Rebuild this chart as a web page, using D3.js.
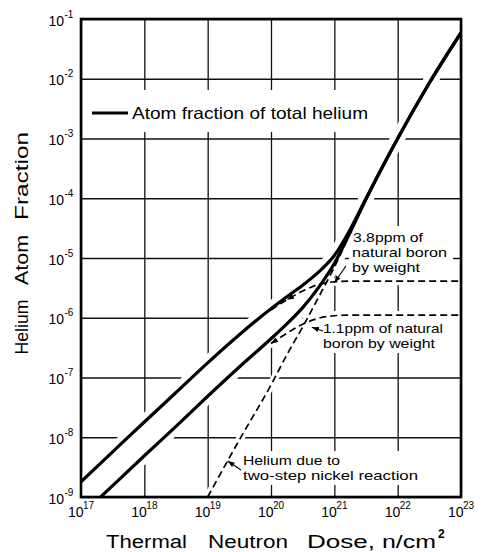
<!DOCTYPE html>
<html>
<head>
<meta charset="utf-8">
<script src="https://cdn.jsdelivr.net/npm/d3@7"></script>
<style>
body { margin: 0; background: #fff; }
text { font-family: "Liberation Sans", Arial, sans-serif; fill: #000; }
</style>
</head>
<body>
<div class="static-image"></div>
<script>
// dose points (n/cm2)
var doses = [1e17, 3.16e17, 1e18, 3.16e18, 1e19, 3.16e19, 1e20, 1.78e20, 3.16e20, 5.62e20, 1e21, 1.78e21, 3.16e21, 1e22, 3.16e22, 1e23];
// total helium, 3.8 ppm boron (upper solid)
var totalHigh = [1.8e-9, 5.7e-9, 1.8e-8, 5.6e-8, 1.76e-7, 5.2e-7, 1.42e-6, 2.24e-6, 3.5e-6, 5.8e-6, 1.1e-5, 3.0e-5, 9.9e-5, 1.0e-3, 8.5e-3, 5.9e-2];
// total helium, 1.1 ppm boron (lower solid)
var totalLow = [4.9e-10, 1.55e-9, 4.9e-9, 1.52e-8, 4.85e-8, 1.5e-7, 4.45e-7, 7.9e-7, 1.48e-6, 3.2e-6, 8.1e-6, 2.7e-5, 9.6e-5, 1.0e-3, 8.5e-3, 5.9e-2];
// helium from boron alone (dashed)
var boronHigh = [1.8e-9, 5.7e-9, 1.8e-8, 5.6e-8, 1.75e-7, 5.1e-7, 1.35e-6, 2.0e-6, 2.8e-6, 3.6e-6, 4.0e-6, 4.1e-6, 4.1e-6, 4.1e-6, 4.1e-6, 4.1e-6];
var boronLow = [4.9e-10, 1.55e-9, 4.9e-9, 1.52e-8, 4.75e-8, 1.4e-7, 3.7e-7, 5.5e-7, 7.8e-7, 9.8e-7, 1.08e-6, 1.11e-6, 1.11e-6, 1.11e-6, 1.11e-6, 1.11e-6];
// two-step nickel reaction (dashed)
var nickelDoses = [1e19, 3.16e19, 1e20, 1.78e20, 3.16e20, 5.62e20, 1e21, 1.78e21, 3.16e21, 1e22, 3.16e22, 1e23];
var nickel = [1e-9, 9e-9, 7.5e-8, 2.4e-7, 7e-7, 2.2e-6, 7e-6, 2.6e-5, 9.5e-5, 1e-3, 8.5e-3, 5.9e-2];
// tick exponents
var xTickExp = [17, 18, 19, 20, 21, 22, 23];
var yTickExp = [-1, -2, -3, -4, -5, -6, -7, -8, -9];

var width = 484;
var height = 552;
var plot = { left: 81, right: 461, top: 19, bottom: 497 };

var x = d3.scaleLog().domain([1e17, 1e23]).range([plot.left, plot.right]);
var y = d3.scaleLog().domain([1e-9, 1e-1]).range([plot.bottom, plot.top]);

var svg = d3.select(".static-image")
    .append("svg")
    .attr("width", width)
    .attr("height", height);

svg.append("clipPath").attr("id", "clip")
    .append("rect")
    .attr("x", plot.left).attr("y", plot.top)
    .attr("width", plot.right - plot.left).attr("height", plot.bottom - plot.top);

var line = d3.line()
    .x(function (d) { return x(d[0]); })
    .y(function (d) { return y(d[1]); })
    .curve(d3.curveMonotoneX);

function pairs(xs, ys, from) {
    return xs.map(function (v, i) { return [v, ys[i]]; }).slice(from || 0);
}

var solids = [pairs(doses, totalHigh), pairs(doses, totalLow)];
var dashes = [pairs(doses, boronHigh, 6), pairs(doses, boronLow, 6), pairs(nickelDoses, nickel)];

drawGrid();
drawHalos();
drawTextBoxes();
drawCurves();
drawFrame();
drawTicks();
drawTitles();
drawLabels();

function drawGrid() {
    var xv = xTickExp.map(function (e) { return Math.pow(10, e); });
    var yv = yTickExp.map(function (e) { return Math.pow(10, e); });
    var gx = svg.append("g")
        .attr("transform", "translate(0," + plot.bottom + ")")
        .call(d3.axisBottom(x).tickValues(xv).tickSize(-(plot.bottom - plot.top)).tickFormat(""));
    var gy = svg.append("g")
        .attr("transform", "translate(" + plot.left + ",0)")
        .call(d3.axisLeft(y).tickValues(yv).tickSize(-(plot.right - plot.left)).tickFormat(""));
    [gx, gy].forEach(function (g) {
        g.select(".domain").remove();
        g.selectAll("line").attr("stroke", "#111").attr("stroke-width", 1.3);
    });
}

function drawHalos() {
    var g = svg.append("g").attr("clip-path", "url(#clip)");
    // the drafted original leaves the band between the two totals free of grid
    var band = d3.area()
        .x(function (d, i) { return x(doses[i]); })
        .y0(function (d, i) { return y(totalLow[i]); })
        .y1(function (d, i) { return y(totalHigh[i]); })
        .curve(d3.curveMonotoneX);
    g.append("path").datum(doses.slice(0, 13)).attr("d", band).attr("fill", "#fff");
    g.selectAll("path.hs").data(solids).enter().append("path")
        .attr("d", line).attr("fill", "none").attr("stroke", "#fff").attr("stroke-width", 14);
    g.selectAll("path.hd").data(dashes).enter().append("path")
        .attr("d", line).attr("fill", "none").attr("stroke", "#fff").attr("stroke-width", 8);
}

function drawTextBoxes() {
    var boxes = [[84, 90, 288, 42], [349, 226, 104, 53], [318, 311, 128, 42], [238, 451, 183, 34]];
    svg.selectAll("rect.box").data(boxes).enter().append("rect")
        .attr("x", function (d) { return d[0]; })
        .attr("y", function (d) { return d[1]; })
        .attr("width", function (d) { return d[2]; })
        .attr("height", function (d) { return d[3]; })
        .attr("fill", "#fff");
}

function drawCurves() {
    var g = svg.append("g").attr("clip-path", "url(#clip)");
    g.selectAll("path.d").data(dashes).enter().append("path")
        .attr("d", line).attr("fill", "none").attr("stroke", "#000")
        .attr("stroke-width", 1.7).attr("stroke-dasharray", "7,4");
    g.selectAll("path.s").data(solids).enter().append("path")
        .attr("d", line).attr("fill", "none").attr("stroke", "#000")
        .attr("stroke-width", 3.2).attr("stroke-linejoin", "round");
    // small arrowheads where the boron curves leave the totals
    arrowHead([x(doses[7]), y(boronHigh[7])], [x(doses[8]), y(boronHigh[8])]);
    arrowHead([x(doses[6]), y(boronLow[6])], [x(doses[7]), y(boronLow[7])]);
}

function arrowHead(tip, from) {
    var a = Math.atan2(tip[1] - from[1], tip[0] - from[0]);
    var len = 7, w = 2.6;
    var bx = tip[0] - len * Math.cos(a), by = tip[1] - len * Math.sin(a);
    var pts = [tip,
        [bx + w * Math.sin(a), by - w * Math.cos(a)],
        [bx - w * Math.sin(a), by + w * Math.cos(a)]];
    svg.append("path")
        .attr("d", "M" + pts.join("L") + "Z")
        .attr("fill", "#000");
}

function drawFrame() {
    svg.append("rect")
        .attr("x", plot.left).attr("y", plot.top)
        .attr("width", plot.right - plot.left).attr("height", plot.bottom - plot.top)
        .attr("fill", "none").attr("stroke", "#000").attr("stroke-width", 2.6);
}

function drawTicks() {
    yTickExp.forEach(function (e) {
        var py = y(Math.pow(10, e));
        svg.append("text").attr("x", 64).attr("y", py + 6.5)
            .attr("text-anchor", "end").style("font-size", "14px").text("10");
        svg.append("text").attr("x", 64.5).attr("y", py - 1.5)
            .style("font-size", "10px").text("-" + (-e));
    });
    xTickExp.forEach(function (e) {
        var px = x(Math.pow(10, e));
        svg.append("text").attr("x", px - 13).attr("y", 517)
            .style("font-size", "14px").text("10");
        svg.append("text").attr("x", px + 2).attr("y", 509)
            .style("font-size", "10px").text(e);
    });
}

function drawTitles() {
    var yt = [["Fraction", 176, 88], ["Atom", 260, 50], ["Helium", 327, 55]];
    yt.forEach(function (t) {
        svg.append("text")
            .attr("transform", "translate(28," + t[1] + ") rotate(-90)")
            .attr("text-anchor", "middle")
            .attr("textLength", t[2]).attr("lengthAdjust", "spacingAndGlyphs")
            .style("font-size", "18px").text(t[0]);
    });
    var xt = [["Thermal", 106, 81], ["Neutron", 208, 80], ["Dose,", 307, 68], ["n/cm", 382, 54]];
    xt.forEach(function (t) {
        svg.append("text").attr("x", t[1]).attr("y", 548)
            .attr("textLength", t[2]).attr("lengthAdjust", "spacingAndGlyphs")
            .style("font-size", "18px").text(t[0]);
    });
    svg.append("text").attr("x", 438).attr("y", 538)
        .style("font-size", "12px").style("font-weight", "bold").text("2");
}

function drawLabels() {
    // legend
    svg.append("line").attr("x1", 92).attr("x2", 128).attr("y1", 113).attr("y2", 113)
        .attr("stroke", "#000").attr("stroke-width", 3.2);
    svg.append("text").attr("x", 132).attr("y", 119)
        .attr("textLength", 236).attr("lengthAdjust", "spacingAndGlyphs")
        .style("font-size", "16.5px").text("Atom fraction of total helium");

    var labels = [
        ["3.8ppm of", 353, 242, 70],
        ["natural boron", 352, 257, 95],
        ["by weight", 352, 272, 68],
        ["1.1ppm of natural", 323, 333, 120],
        ["boron by weight", 323, 348, 112],
        ["Helium due to", 243, 465, 97],
        ["two-step nickel reaction", 243, 480, 175]
    ];
    labels.forEach(function (l) {
        svg.append("text").attr("x", l[1]).attr("y", l[2])
            .attr("textLength", l[3]).attr("lengthAdjust", "spacingAndGlyphs")
            .style("font-size", "13px").text(l[0]);
    });

    // leader arrows
    var t1 = [x(doses[10]), y(boronHigh[10]) + 1];
    leader([346, 266], t1);
    var t2 = [x(doses[8]), y(boronLow[8])];
    var s2 = [323, 331];
    leader(s2, [s2[0] + 0.55 * (t2[0] - s2[0]), s2[1] + 0.55 * (t2[1] - s2[1])]);
    var n0 = [x(nickelDoses[0]), y(nickel[0])], n1 = [x(nickelDoses[1]), y(nickel[1])];
    leader([241, 470], [n0[0] + 0.63 * (n1[0] - n0[0]), n0[1] + 0.63 * (n1[1] - n0[1])]);
}

function leader(from, to) {
    svg.append("line")
        .attr("x1", from[0]).attr("y1", from[1]).attr("x2", to[0]).attr("y2", to[1])
        .attr("stroke", "#000").attr("stroke-width", 1.2);
    arrowHead(to, from);
}
</script>
</body>
</html>
